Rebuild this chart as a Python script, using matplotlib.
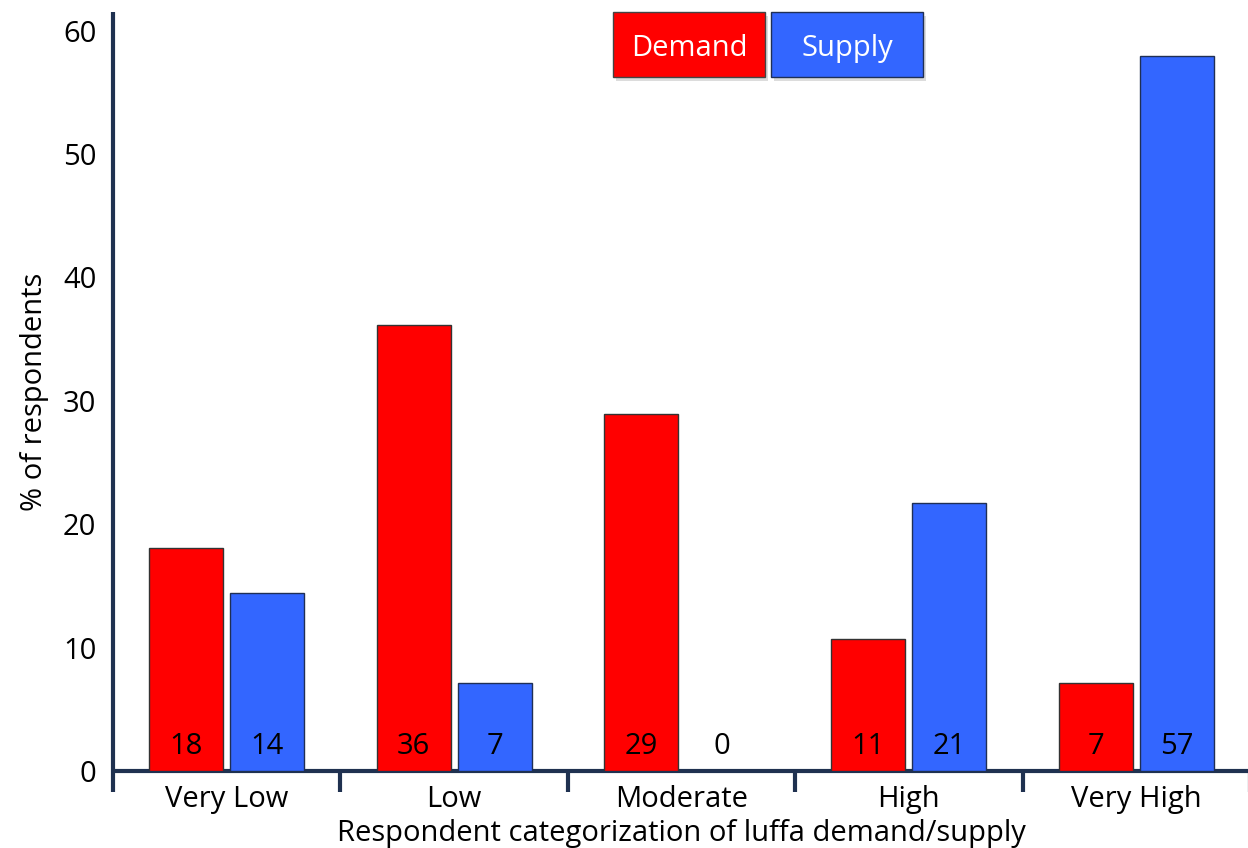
import numpy as np
import matplotlib.pyplot as plt
from matplotlib.patches import Rectangle

plt.rcParams['font.family'] = ['Open Sans', 'DejaVu Sans']

categories = ['Very Low', 'Low', 'Moderate', 'High', 'Very High']
demand = [18.1, 36.1, 28.9, 10.7, 7.1]
supply = [14.4, 7.1, 0.0, 21.7, 57.9]
demand_labels = ['18', '36', '29', '11', '7']
supply_labels = ['14', '7', '0', '21', '57']

red = '#FF0000'
blue = '#3366FF'
navy = '#1F3150'
fs = 21

fig = plt.figure(figsize=(12.48, 8.48), dpi=100)
ax = fig.add_axes([113 / 1248, 1 - 771 / 848, 1137 / 1248, (771 - 12) / 848])

x = np.arange(len(categories))
w = 0.325
off = 0.178
ax.bar(x - off, demand, w, color=red, edgecolor='#333333', linewidth=1, zorder=3)
ax.bar(x + off, supply, w, color=blue, edgecolor='#1F2F55', linewidth=1, zorder=3)

for i in range(len(categories)):
    ax.text(x[i] - off, 2.0, demand_labels[i], ha='center', va='center', fontsize=fs, zorder=4)
    ax.text(x[i] + off, 2.0, supply_labels[i], ha='center', va='center', fontsize=fs, zorder=4)

ax.set_xlim(-0.5, 4.5)
ax.set_ylim(0, 61.5)
ax.set_yticks([0, 10, 20, 30, 40, 50, 60])
ax.set_xticks(x)
ax.set_xticklabels(categories)
ax.set_xticks(np.arange(-0.5, 5, 1), minor=True)
ax.tick_params(axis='x', which='major', length=0, labelsize=fs, pad=10)
ax.tick_params(axis='x', which='minor', length=15, width=3, color=navy, direction='out')
ax.tick_params(axis='y', length=0, labelsize=fs, pad=12)

for s in ['top', 'right']:
    ax.spines[s].set_visible(False)
for s in ['left', 'bottom']:
    ax.spines[s].set_color(navy)
    ax.spines[s].set_linewidth(3)
    ax.spines[s].set_capstyle('butt')

ax.set_xlabel('Respondent categorization of luffa demand/supply', fontsize=fs, labelpad=4)
ax.set_ylabel('% of respondents', fontsize=fs, labelpad=10)

# legend boxes
boxes = [('Demand', red, '#444444', 613), ('Supply', blue, '#1F2F55', 771)]
for name, col, ec, left in boxes:
    fig.patches.append(Rectangle(((left + 3) / 1248, 1 - 81 / 848), 152 / 1248, 65 / 848,
                                 transform=fig.transFigure, facecolor='#BBBBBB',
                                 edgecolor='none', alpha=0.5, zorder=1))
    fig.patches.append(Rectangle((left / 1248, 1 - 77 / 848), 152 / 1248, 65 / 848,
                                 transform=fig.transFigure, facecolor=col,
                                 edgecolor=ec, linewidth=1, zorder=2))
    fig.text((left + 76) / 1248, 1 - 56 / 848, name, color='white', fontsize=fs,
             ha='center', va='baseline', zorder=3)

fig.savefig('out.png', dpi=100)
